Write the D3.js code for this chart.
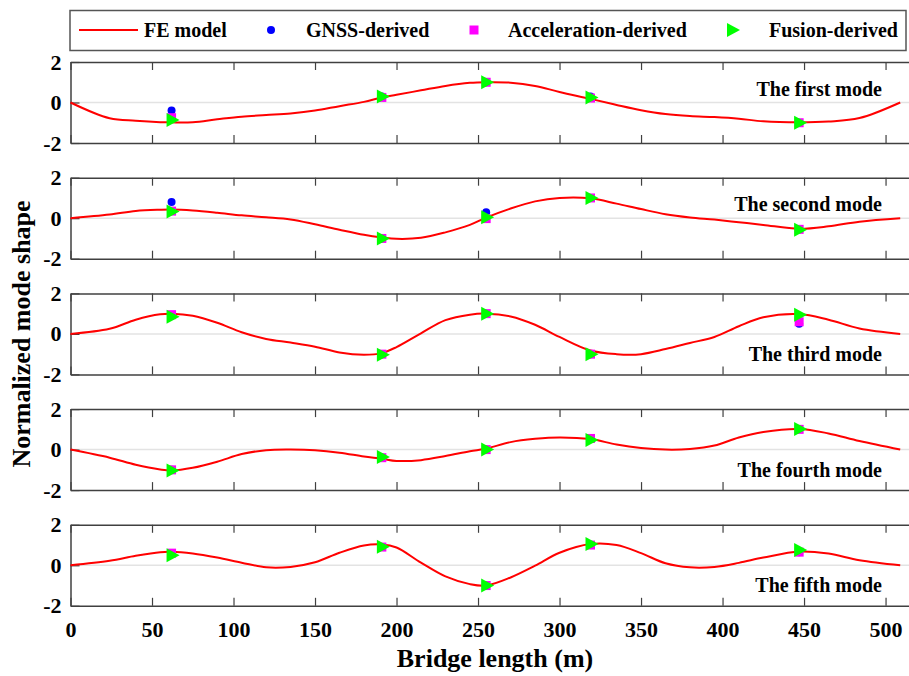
<!DOCTYPE html>
<html>
<head>
<meta charset="utf-8">
<script src="https://cdn.jsdelivr.net/npm/d3@7"></script>
<style>
  body { margin: 0; background: #fff; }
  svg text { font-family: "Liberation Serif", "Times New Roman", serif !important; font-weight: bold; fill: #000; }
</style>
</head>
<body>
<svg id="chart" width="909" height="676"></svg>
<script>
// FE model stations along the bridge (m)
var stations = [0, 24, 40, 55, 62, 75, 90, 105, 120, 135, 150, 165, 180, 191, 200, 215, 230, 245,
  255, 270, 285, 300, 319, 335, 350, 365, 380, 395, 410, 425, 447, 465, 484, 509];

var fe1 = [0, -0.78, -0.9, -0.97, -0.98, -0.97, -0.83, -0.7, -0.62, -0.54, -0.4, -0.18, 0.03, 0.25, 0.38, 0.6, 0.82, 0.97,
  1.0, 0.98, 0.82, 0.52, 0.18, -0.12, -0.38, -0.57, -0.67, -0.72, -0.8, -0.93, -0.98, -0.94, -0.77, 0];
var fe2 = [0, 0.18, 0.36, 0.42, 0.43, 0.38, 0.27, 0.14, 0.05, -0.06, -0.3, -0.57, -0.82, -0.95, -1.02, -0.97, -0.7, -0.33,
  0.03, 0.48, 0.83, 1.0, 0.98, 0.72, 0.45, 0.2, 0.04, -0.07, -0.2, -0.33, -0.52, -0.4, -0.17, 0];
var fe3 = [0, 0.25, 0.7, 0.97, 1.0, 0.9, 0.55, 0.08, -0.25, -0.43, -0.63, -0.92, -1.03, -0.95, -0.65, 0.03, 0.68, 0.95,
  1.0, 0.86, 0.45, -0.15, -0.82, -1.0, -1.0, -0.75, -0.45, -0.15, 0.38, 0.82, 0.98, 0.7, 0.27, 0];
var fe4 = [0, -0.4, -0.75, -0.98, -1.03, -0.9, -0.6, -0.22, -0.03, 0.0, -0.03, -0.15, -0.34, -0.45, -0.56, -0.52, -0.32, -0.08,
  0.05, 0.37, 0.53, 0.6, 0.52, 0.25, 0.08, 0.0, 0.03, 0.2, 0.6, 0.87, 1.02, 0.8, 0.42, 0];
var fe5 = [0, 0.22, 0.47, 0.65, 0.67, 0.58, 0.38, 0.13, -0.1, -0.08, 0.15, 0.62, 0.98, 1.03, 0.88, 0.13, -0.55, -0.93,
  -1.0, -0.6, -0.02, 0.62, 1.05, 1.0, 0.6, 0.1, -0.1, -0.08, 0.12, 0.38, 0.68, 0.58, 0.25, 0];

// measurement points (m)
var sensors = [62, 191, 255, 319, 447];

var gnss1 = [-0.4, 0.3, 1.0, 0.3, -1.0];
var gnss2 = [0.8, -1.0, 0.3, 1.0, -0.55];
var gnss3 = [0.9, -1.0, 1.0, -1.0, 0.5];
var gnss4 = [-1.0, -0.4, 0.0, 0.55, 1.0];
var gnss5 = [0.6, 0.9, -1.0, 1.0, 0.65];

var acc1 = [-0.75, 0.25, 1.0, 0.22, -1.0];
var acc2 = [0.35, -1.0, -0.02, 1.0, -0.55];
var acc3 = [0.95, -1.0, 1.0, -1.0, 0.6];
var acc4 = [-1.0, -0.4, 0.0, 0.55, 1.0];
var acc5 = [0.6, 0.9, -1.0, 1.0, 0.65];

var fus1 = [-0.87, 0.3, 1.0, 0.25, -1.0];
var fus2 = [0.33, -1.0, 0.05, 1.0, -0.57];
var fus3 = [0.85, -1.03, 1.0, -1.0, 0.95];
var fus4 = [-1.03, -0.37, 0.0, 0.47, 1.02];
var fus5 = [0.5, 0.92, -1.0, 1.05, 0.75];

var modeNames = ["The first mode", "The second mode", "The third mode", "The fourth mode", "The fifth mode"];
var xTicks = [0, 50, 100, 150, 200, 250, 300, 350, 400, 450, 500];
var yTicks = [-2, 0, 2];
var legendLabels = ["FE model", "GNSS-derived", "Acceleration-derived", "Fusion-derived"];

var feAll = [fe1, fe2, fe3, fe4, fe5];
var gnssAll = [gnss1, gnss2, gnss3, gnss4, gnss5];
var accAll = [acc1, acc2, acc3, acc4, acc5];
var fusAll = [fus1, fus2, fus3, fus4, fus5];

var svg = d3.select("#chart");
var axisColor = "#404040";
var serif = '"Liberation Serif", "Times New Roman", serif';

var x = d3.scaleLinear().domain([0, 515]).range([70.5, 910]);
var panelTop = 62, panelStep = 115.7, panelH = 81;

function triPath(cx, cy) {
  return "M" + (cx - 5) + "," + (cy - 7) + "L" + (cx + 8) + "," + cy + "L" + (cx - 5) + "," + (cy + 7) + "Z";
}

feAll.forEach(function (fe, i) {
  var top = panelTop + i * panelStep;
  var y = d3.scaleLinear().domain([-2, 2]).range([top + panelH, top]);
  var g = svg.append("g");

  // zero line
  g.append("line")
    .attr("x1", x(0)).attr("x2", x(515))
    .attr("y1", y(0)).attr("y2", y(0))
    .attr("stroke", "#e3e3e3").attr("stroke-width", 1.5);

  // axes
  var bottom = g.append("g")
    .attr("transform", "translate(0," + y(-2) + ")")
    .call(d3.axisBottom(x).tickValues(xTicks).tickSizeInner(-8).tickSizeOuter(0).tickPadding(16)
      .tickFormat(i === 4 ? function (d) { return String(d); } : ""));
  var topAx = g.append("g")
    .attr("transform", "translate(0," + y(2) + ")")
    .call(d3.axisTop(x).tickValues(xTicks).tickSizeInner(-8).tickSizeOuter(0).tickFormat(""));
  var left = g.append("g")
    .attr("transform", "translate(" + x(0) + ",0)")
    .call(d3.axisLeft(y).tickValues(yTicks).tickSizeInner(-9).tickSizeOuter(0).tickPadding(9)
      .tickFormat(function (d) { return String(d); }));

  [bottom, topAx, left].forEach(function (a) {
    a.attr("font-family", serif).attr("font-size", 22);
    a.select(".domain").attr("stroke", axisColor).attr("stroke-width", 1.5);
    a.selectAll(".tick line").attr("stroke", axisColor).attr("stroke-width", 1.2);
    a.selectAll("text").style("font-family", serif).style("font-size", "22px").style("font-weight", "bold").attr("fill", "#000");
  });

  // FE model curve
  var line = d3.line()
    .x(function (d, k) { return x(stations[k]); })
    .y(function (d) { return y(d); })
    .curve(d3.curveCatmullRom.alpha(0.5));
  g.append("path")
    .datum(fe)
    .attr("d", line)
    .attr("fill", "none")
    .attr("stroke", "#ff0000")
    .attr("stroke-width", 2);

  // markers
  g.selectAll(".gnss").data(gnssAll[i]).join("circle")
    .attr("cx", function (d, k) { return x(sensors[k]); })
    .attr("cy", function (d) { return y(d); })
    .attr("r", 4)
    .attr("fill", "#0000ff");
  g.selectAll(".acc").data(accAll[i]).join("rect")
    .attr("x", function (d, k) { return x(sensors[k]) - 4.5; })
    .attr("y", function (d) { return y(d) - 4.5; })
    .attr("width", 9).attr("height", 9)
    .attr("fill", "#ff00ff");
  g.selectAll(".fus").data(fusAll[i]).join("path")
    .attr("d", function (d, k) { return triPath(x(sensors[k]), y(d)); })
    .attr("fill", "#00ff00");

  // mode label
  g.append("text")
    .attr("x", 882)
    .attr("y", i < 2 ? y(0) - 7 : y(0) + 27)
    .attr("text-anchor", "end")
    .attr("font-size", 20)
    .text(modeNames[i]);
});

// axis titles
svg.append("text")
  .attr("x", 495).attr("y", 667)
  .attr("text-anchor", "middle")
  .attr("font-size", 26)
  .text("Bridge length (m)");

svg.append("text")
  .attr("transform", "translate(30,334) rotate(-90)")
  .attr("text-anchor", "middle")
  .attr("font-size", 26)
  .text("Normalized mode shape");

// legend
var leg = svg.append("g");
leg.append("rect")
  .attr("x", 70).attr("y", 10.5).attr("width", 836).attr("height", 40)
  .attr("fill", "#fff").attr("stroke", "#555").attr("stroke-width", 1.5);
leg.append("line")
  .attr("x1", 79).attr("x2", 138).attr("y1", 30).attr("y2", 30)
  .attr("stroke", "#ff0000").attr("stroke-width", 2);
leg.append("circle").attr("cx", 271).attr("cy", 30).attr("r", 4).attr("fill", "#0000ff");
leg.append("rect").attr("x", 469.5).attr("y", 25.5).attr("width", 9).attr("height", 9).attr("fill", "#ff00ff");
leg.append("path").attr("d", triPath(732, 30)).attr("fill", "#00ff00");
var legX = [144, 306, 508, 769];
leg.selectAll(".lt").data(legendLabels).join("text")
  .attr("x", function (d, k) { return legX[k]; })
  .attr("y", 37)
  .attr("font-size", 20)
  .text(function (d) { return d; });
</script>
</body>
</html>
